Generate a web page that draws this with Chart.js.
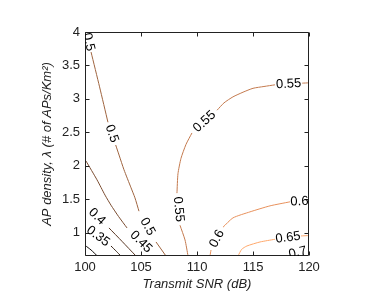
<!DOCTYPE html>
<html>
<head>
<meta charset="utf-8">
<script src="https://cdn.jsdelivr.net/npm/chart.js@4"></script>
<style>
  html, body { margin: 0; padding: 0; background: #fff; }
  canvas { display: block; }
</style>
</head>
<body>
<canvas id="chart" width="374" height="295"></canvas>
<script>
// axis ticks
const xTicks = [100, 105, 110, 115, 120];
const yTicks = [1, 1.5, 2, 2.5, 3, 3.5, 4];

// contour levels, [snr, density] points, null = gap where the level label sits
const levels = [0.3, 0.35, 0.4, 0.45, 0.5, 0.55, 0.6, 0.65, 0.7];
const c030 = [[100, 0.81], [100.54, 0.74], [101.1, 0.65]];
const c035 = [[100, 1.09], null, [102.32, 0.80], [102.8, 0.72], [103.2, 0.65]];
const c040 = [[100, 1.41], null, [102.14, 1.07], [103.3, 0.87], [104.55, 0.65]];
const c045 = [[100.09, 2.07], [101.07, 1.79], [101.79, 1.56], [102.32, 1.41], [103.0, 1.24], [103.75, 1.07], null, [106.25, 0.65]];
const c050 = [[100.1, 4.0], null, [100.54, 3.70], [101.3, 3.18], [102.05, 2.65], null,
              [102.74, 2.31], [103.04, 2.16], [103.48, 1.94], [104.11, 1.67], [104.46, 1.52], [104.82, 1.32], null,
              [106.34, 0.86], [107.23, 0.65]];
const c055 = [[120, 3.24], [119.4, 3.235], null,
              [116.96, 3.21], [115.98, 3.185], [115.0, 3.158], [114.11, 3.10], [113.21, 3.03], [112.41, 2.94], [111.79, 2.83], null,
              [109.55, 2.49], [109.02, 2.32], [108.57, 2.11], [108.30, 1.88], [108.21, 1.59], null,
              [108.48, 1.11], [108.93, 0.89], [109.2, 0.65]];
const c060 = [[120, 1.47], null, [118.3, 1.46], [116.52, 1.40], [114.73, 1.31], [113.21, 1.22], [112.32, 1.08], null,
              [111.25, 0.74], [111.16, 0.65]];
const c065 = [[120, 0.956], [119.29, 0.95], null, [116.96, 0.90], [115.63, 0.86], [114.46, 0.80], [113.99, 0.75], [113.66, 0.65]];
const c070 = [[120, 0.74], null, [118.0, 0.66], [117.5, 0.60]];
const contours = [c030, c035, c040, c045, c050, c055, c060, c065, c070];
const labelled = [false, true, true, true, true, true, true, true, true];

// matlab-ish copper colormap over the level range
function copper(v) {
  const t = (v - 0.28) / 0.44;
  const r = Math.min(1, 1.25 * t), g = 0.7812 * t, b = 0.4975 * t;
  return `rgb(${Math.round(r*255)},${Math.round(g*255)},${Math.round(b*255)})`;
}

const FONT = '"Liberation Sans", Arial, Helvetica, sans-serif';
const AXIS = '#222';

const datasets = contours.map((pts, i) => ({
  label: String(levels[i]),
  data: pts.map(p => p ? { x: p[0], y: p[1] } : { x: null, y: null }),
  showLine: true,
  spanGaps: false,
  borderColor: copper(levels[i]),
  borderWidth: 1,
  pointRadius: 0,
  tension: 0.2,
  level: levels[i],
  labelled: labelled[i]
}));

// box + inward ticks like matlab axes
const boxPlugin = {
  id: 'box',
  afterDatasetsDraw(chart) {
    const { ctx, chartArea: a, scales: { x, y } } = chart;
    ctx.save();
    ctx.strokeStyle = AXIS;
    ctx.lineWidth = 1;
    const L = Math.round(a.left) + 0.5, R = Math.round(a.right) - 0.5;
    const T = Math.round(a.top) + 0.5, B = Math.round(a.bottom) - 0.5;
    ctx.beginPath();
    ctx.rect(L, T, R - L, B - T);
    const len = 4;
    for (const v of xTicks) {
      const px = Math.round(x.getPixelForValue(v)) + 0.5;
      ctx.moveTo(px, B); ctx.lineTo(px, B - len);
      ctx.moveTo(px, T); ctx.lineTo(px, T + len);
    }
    for (const v of yTicks) {
      const py = Math.round(y.getPixelForValue(v)) + 0.5;
      ctx.moveTo(L, py); ctx.lineTo(L + len, py);
      ctx.moveTo(R, py); ctx.lineTo(R - len, py);
    }
    ctx.stroke();
    ctx.restore();
  }
};

// inline contour labels, placed in each gap and rotated along the line
const labelPlugin = {
  id: 'clabels',
  afterDatasetsDraw(chart) {
    const { ctx, chartArea: a, scales: { x, y } } = chart;
    ctx.save();
    ctx.beginPath();
    ctx.rect(a.left, a.top, a.right - a.left, a.bottom - a.top);
    ctx.clip();
    ctx.font = `13px ${FONT}`;
    ctx.fillStyle = '#000';
    ctx.textAlign = 'center';
    ctx.textBaseline = 'middle';
    chart.data.datasets.forEach((ds, i) => {
      if (!ds.labelled) return;
      const pts = contours[i];
      for (let k = 1; k < pts.length - 1; k++) {
        if (pts[k] !== null) continue;
        const p1 = pts[k - 1], p2 = pts[k + 1];
        const x1 = x.getPixelForValue(p1[0]), y1 = y.getPixelForValue(p1[1]);
        const x2 = x.getPixelForValue(p2[0]), y2 = y.getPixelForValue(p2[1]);
        let ang = Math.atan2(y2 - y1, x2 - x1);
        if (ang > Math.PI / 2) ang -= Math.PI;
        if (ang < -Math.PI / 2) ang += Math.PI;
        ctx.save();
        ctx.translate((x1 + x2) / 2, (y1 + y2) / 2);
        ctx.rotate(ang);
        ctx.fillText(String(ds.level), 0, 0);
        ctx.restore();
      }
    });
    ctx.restore();
  }
};

new Chart(document.getElementById('chart').getContext('2d'), {
  type: 'scatter',
  data: { datasets },
  options: {
    responsive: false,
    animation: false,
    layout: { padding: { top: 32, right: 65, left: 0, bottom: 0 } },
    plugins: { legend: { display: false }, tooltip: { enabled: false } },
    scales: {
      x: {
        type: 'linear', min: 100, max: 120,
        grid: { display: false, drawTicks: false },
        border: { display: false },
        afterBuildTicks: s => { s.ticks = xTicks.map(v => ({ value: v })); },
        afterFit: s => { s.height = 39; },
        ticks: { padding: 4, color: AXIS, font: { family: FONT, size: 13 }, callback: v => String(v), maxRotation: 0 },
        title: { display: true, text: 'Transmit SNR (dB)', color: AXIS, padding: { top: 0, bottom: 3 },
                 font: { family: FONT, size: 13, style: 'italic' } }
      },
      y: {
        type: 'linear', min: 0.65, max: 4,
        grid: { display: false, drawTicks: false },
        border: { display: false },
        afterBuildTicks: s => { s.ticks = yTicks.map(v => ({ value: v })); },
        afterFit: s => { s.width = 85; },
        ticks: { padding: 5, color: AXIS, font: { family: FONT, size: 13 }, callback: v => String(v) },
        title: { display: true, text: 'AP density, λ (# of APs/Km²)', color: AXIS, padding: { top: 40, bottom: 0 },
                 font: { family: FONT, size: 13, style: 'italic' } }
      }
    }
  },
  plugins: [boxPlugin, labelPlugin]
});
</script>
</body>
</html>
